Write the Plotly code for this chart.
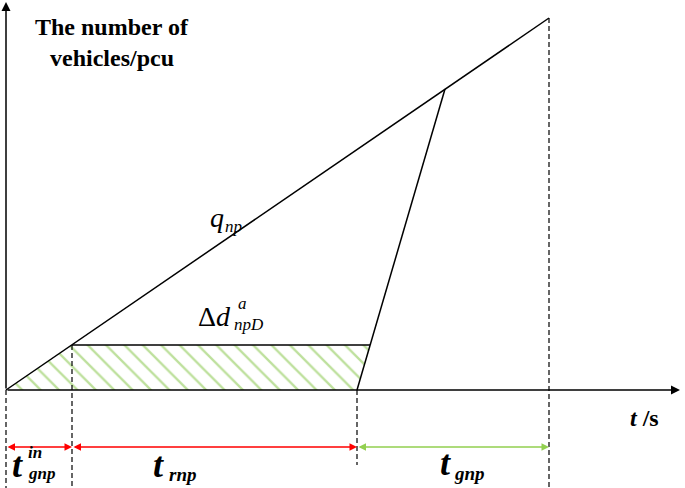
import plotly.graph_objects as go

# time points on the t axis (arbitrary units, origin at the axis corner)
t_marks = [0, 66, 351, 543]          # start, end of t_in, end of red, end of green
t_peak = 439                         # where the discharge line meets q_np
# vehicle counts
n_arrival_end = 372
n_queue = 45                         # level of the hatched queue band
n_peak = 301
band_right = 364

arrival_t = [0, 543]
arrival_n = [0, n_arrival_end]
discharge_t = [351, t_peak]
discharge_n = [0, n_peak]
hatch_t = [0, 66, band_right, 351, 0]
hatch_n = [0, n_queue, n_queue, 0, 0]

serif = "Liberation Serif"
RED = "#FF0000"
GREEN = "#92D050"

fig = go.Figure()

# hatched area
fig.add_trace(go.Scatter(x=hatch_t, y=hatch_n, mode="lines", fill="toself",
                         line=dict(width=0), fillcolor="rgba(0,0,0,0)",
                         fillpattern=dict(shape="\\", fgcolor="#7CC13A", bgcolor="white",
                                          size=13, solidity=0.18),
                         hoverinfo="skip"))
# band top line
fig.add_trace(go.Scatter(x=[66, band_right], y=[n_queue, n_queue], mode="lines",
                         line=dict(color="black", width=1.5)))
fig.add_trace(go.Scatter(x=arrival_t, y=arrival_n, mode="lines",
                         line=dict(color="black", width=1.5)))
fig.add_trace(go.Scatter(x=discharge_t, y=discharge_n, mode="lines",
                         line=dict(color="black", width=1.5)))

# dashed guides
dash_tops = [0, n_queue, 0, n_arrival_end]
dash_bottoms = [-98, -98, -75, -98]
for t, top, bot in zip(t_marks, dash_tops, dash_bottoms):
    fig.add_trace(go.Scatter(x=[t, t], y=[top, bot], mode="lines",
                             line=dict(color="black", width=1.2, dash="5px,3px")))

# axes with arrows
fig.add_annotation(x=0, y=388, ax=0, ay=0, xref="x", yref="y", axref="x", ayref="y",
                   showarrow=True, arrowhead=2, arrowsize=1.2, arrowwidth=1.5,
                   arrowcolor="black", text="")
fig.add_annotation(x=674, y=0, ax=0, ay=0, xref="x", yref="y", axref="x", ayref="y",
                   showarrow=True, arrowhead=2, arrowsize=1.2, arrowwidth=1.5,
                   arrowcolor="black", text="")

# interval arrows
arrow_y = -57
spans = [(t_marks[0], t_marks[1], RED), (t_marks[1], t_marks[2], RED),
         (t_marks[2], t_marks[3], GREEN)]
for a, b, c in spans:
    fig.add_annotation(x=b, y=arrow_y, ax=a, ay=arrow_y, xref="x", yref="y",
                       axref="x", ayref="y", showarrow=True, arrowhead=2,
                       startarrowhead=2, arrowside="end+start", arrowsize=1,
                       arrowwidth=1.5, arrowcolor=c, text="")

def txt(x, y, s, size, anchor="center"):
    fig.add_annotation(x=x, y=y, xref="x", yref="y", text=s, showarrow=False,
                       xanchor=anchor, font=dict(family=serif, size=size, color="black"))

# y axis title
txt(106, 363, "<b>The number of</b>", 24)
txt(106, 332, "<b>vehicles/pcu</b>", 24)
# x axis title
txt(638, -28, "<b><i>t</i> /s</b>", 24)

# q_np
txt(202, 173, "<i>q</i>", 28, "left")
txt(217, 164, "<i>np</i>", 17, "left")
# delta d
txt(190, 74, "Δ<i>d</i>", 28, "left")
txt(230, 87, "<i>a</i>", 17, "left")
txt(226, 66, "<i>npD</i>", 17, "left")

# interval labels
txt(4, -75, "<b><i>t</i></b>", 36, "left")
txt(20, -62, "<b><i>in</i></b>", 17, "left")
txt(20, -83, "<b><i>gnp</i></b>", 17, "left")
txt(145, -75, "<b><i>t</i></b>", 36, "left")
txt(161, -84, "<b><i>rnp</i></b>", 19, "left")
txt(432, -73, "<b><i>t</i></b>", 36, "left")
txt(446, -83, "<b><i>gnp</i></b>", 19, "left")

fig.update_xaxes(range=[-6, 679], visible=False, fixedrange=True)
fig.update_yaxes(range=[-98, 390], visible=False, fixedrange=True)
fig.update_layout(width=685, height=488, margin=dict(l=0, r=0, t=0, b=0),
                  plot_bgcolor="white", paper_bgcolor="white", showlegend=False)

fig.write_html("out.html", config={"displayModeBar": False},
               post_script="document.body.style.margin='0';")
